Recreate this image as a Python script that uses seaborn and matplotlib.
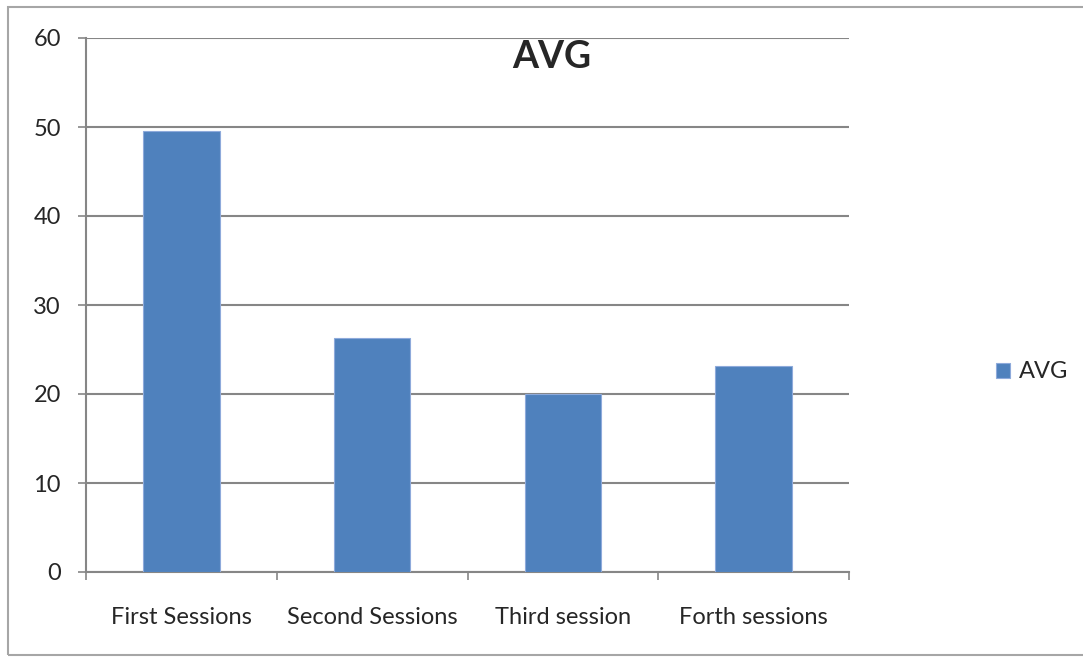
import matplotlib
matplotlib.use("Agg")
import matplotlib.pyplot as plt
import seaborn as sns
import pandas as pd
from matplotlib.patches import Rectangle

# valeurs
sessions = ["First Sessions", "Second Sessions", "Third session", "Forth sessions"]
avg = [49.6, 26.3, 20.0, 23.1]
yticks = [0, 10, 20, 30, 40, 50, 60]

data = pd.DataFrame({"session": sessions, "AVG": avg})

sns.set_style("white")
plt.rcParams["font.family"] = ["Lato", "DejaVu Sans"]

fig = plt.figure(figsize=(10.83, 6.58), dpi=100)
ax = fig.add_axes([86 / 1083, 1 - 572 / 658, 763 / 1083, 534 / 658])

grid_col = "#868686"
bar_col = "#4F81BD"

sns.barplot(data=data, x="session", y="AVG", color=bar_col, saturation=1,
            width=0.4, label="AVG", ax=ax, edgecolor="#8EAADB",
            linewidth=0.8, zorder=3)

ax.set_xlim(-0.5, len(sessions) - 0.5)
ax.set_ylim(0, 60)
ax.set_yticks(yticks)
ax.yaxis.grid(True, color=grid_col, linewidth=1.5, zorder=0)
ax.set_axisbelow(True)
ax.set_xlabel("")
ax.set_ylabel("")

for s in ["top", "right"]:
    ax.spines[s].set_visible(False)
for s in ["left", "bottom"]:
    ax.spines[s].set_color(grid_col)
    ax.spines[s].set_linewidth(1.5)

ax.tick_params(axis="y", length=6, width=1.2, color=grid_col, direction="out",
               labelsize=17, pad=12, left=True)
ax.tick_params(axis="x", which="major", length=0, labelsize=17, pad=25)
ax.set_xticks([i - 0.5 for i in range(len(sessions) + 1)], minor=True)
ax.tick_params(axis="x", which="minor", length=6, width=1.2, color=grid_col,
               direction="out", bottom=True)

fig.text(552 / 1083, 1 - 57 / 658, "AVG", ha="center", va="center",
         fontsize=27, fontweight="bold")

leg = ax.legend(loc="center left", bbox_to_anchor=(996 / 1083, 1 - 372 / 658),
                bbox_transform=fig.transFigure, frameon=False, fontsize=17,
                handlelength=0.6, handleheight=0.6, handletextpad=0.35,
                borderaxespad=0, borderpad=0)

fig.patches.append(Rectangle((8 / 1083, 3 / 658), 1085 / 1083, 648 / 658,
                             transform=fig.transFigure, fill=False,
                             edgecolor="#A6A6A6", linewidth=1.5))

fig.savefig("out.png", dpi=100)
